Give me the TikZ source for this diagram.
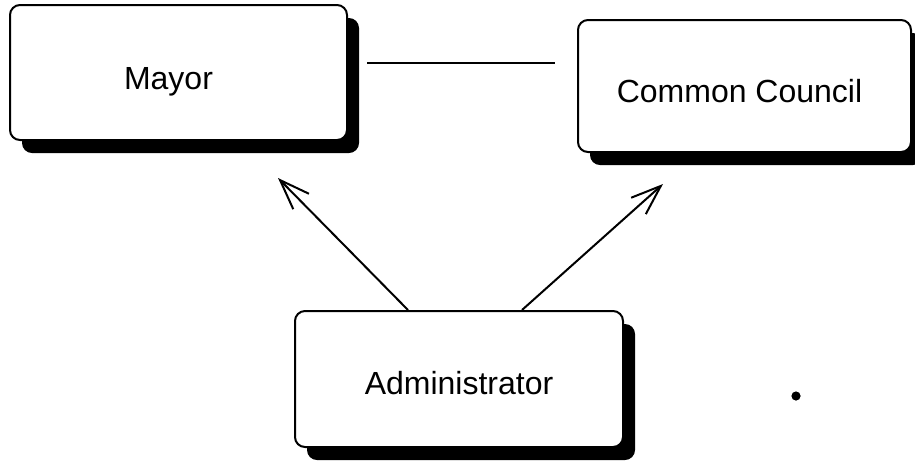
\documentclass[tikz,border=0pt]{standalone}
\usepackage{fontspec}
\setmainfont{Liberation Sans}
\usetikzlibrary{positioning,shadows,arrows.meta}

\begin{document}
\begin{tikzpicture}[x=0.5pt,y=-0.5pt,
    office/.style ={ rectangle ,rounded corners=5pt ,draw ,line width=1pt ,
    fill=white ,
    drop shadow={shadow xshift=6pt ,shadow yshift=-6.5pt ,fill=black ,opacity=1}},
    title/.style={font=\fontsize{16}{19}\selectfont},
    reports/.style={line width=1pt ,-{Straight Barb[length=15pt,width=11pt]}}
    ]
    \useasboundingbox (0,0) rectangle (915,463);

    \node[office ,minimum width=168.5pt ,minimum height=67.5pt] (mayor) at (178.5,72.5) {};
    \node[office ,minimum width=166.5pt ,minimum height=66pt] (council) at (744.5,86) {};
    \node[office ,minimum width=164pt ,minimum height=68pt] (admin) at (459,379) {};

    \node[title] (mayorname) at ([shift={(-5pt,-4.5pt)}]mayor.center) {Mayor};
    \node[title] (councilname) at ([shift={(-2.5pt,-2.5pt)}]council.center) {Common Council};
    \node[title] (adminname) at ([shift={(0pt,-2pt)}]admin.center) {Administrator};

    \coordinate (la) at (367,63);
    \coordinate (lb) at (555,63);
    \coordinate (mtip) at (278,178);
    \coordinate (ctip) at (663,184);

    \draw[line width=1.3pt] (la) -- (lb);
    \draw[reports] ([xshift=-25.5pt]admin.north) -- (mtip);
    \draw[reports] ([xshift=31.5pt]admin.north) -- (ctip);

    \fill (796,396) circle (2.3pt);
    \end{tikzpicture}
\end{document}
